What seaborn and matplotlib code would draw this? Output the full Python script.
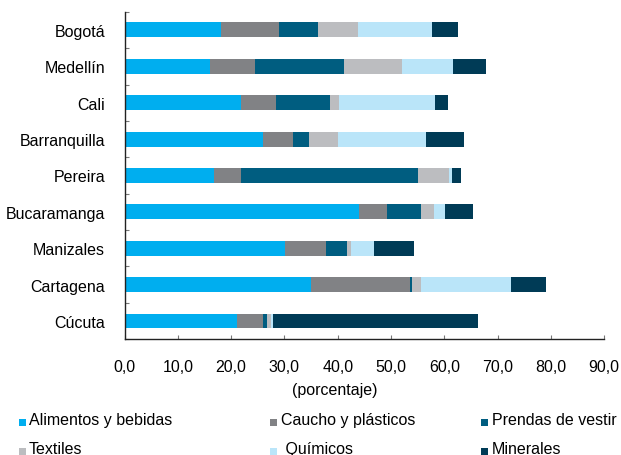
import matplotlib
matplotlib.use('Agg')
import matplotlib.pyplot as plt
import numpy as np
import seaborn as sns
from matplotlib.patches import Patch
from matplotlib.ticker import FuncFormatter, MultipleLocator

# data (percent of each city's total)
cities = ['Bogotá', 'Medellín', 'Cali', 'Barranquilla', 'Pereira',
          'Bucaramanga', 'Manizales', 'Cartagena', 'Cúcuta']
alimentos = [18.1, 16.0, 21.9, 26.0, 16.7, 43.9, 30.2, 35.0, 21.1]
caucho = [10.8, 8.5, 6.6, 5.7, 5.1, 5.4, 7.6, 18.5, 4.8]
prendas = [7.4, 16.7, 10.0, 2.9, 33.2, 6.4, 4.0, 0.5, 0.9]
textiles = [7.5, 10.9, 1.7, 5.5, 5.8, 2.3, 0.6, 1.6, 0.6]
quimicos = [13.9, 9.5, 18.0, 16.4, 0.6, 2.1, 4.4, 16.9, 0.4]
minerales = [4.8, 6.2, 2.5, 7.1, 1.8, 5.2, 7.5, 6.6, 38.6]

series = ['Alimentos y bebidas', 'Caucho y plásticos', 'Prendas de vestir',
          'Textiles', ' Químicos', 'Minerales']
colors = ['#00aeef', '#818285', '#005d80', '#bcbdc0', '#bae5f9', '#003b56']

plt.rcParams['font.family'] = ['Liberation Sans', 'DejaVu Sans']
plt.rcParams['font.size'] = 11.5

vals = np.array([alimentos, caucho, prendas, textiles, quimicos, minerales])
cum = vals.cumsum(axis=0)

fig, ax = plt.subplots(figsize=(6.21, 4.56), dpi=100)
fig.subplots_adjust(left=0.2005, right=0.973, top=0.972, bottom=0.254)

# stacked bars: draw the cumulative totals from the longest down
for i in range(len(series) - 1, -1, -1):
    sns.barplot(x=cum[i], y=cities, color=colors[i], orient='h', width=0.41,
                saturation=1, edgecolor='none', linewidth=0, ax=ax)

ax.set_xlim(0, 90)
ax.set_ylim(8.5, -0.5)
ax.set_ylabel('')
ax.set_xlabel('(porcentaje)', fontsize=11.5)
ax.xaxis.set_label_coords(0.438, -0.13)

ax.xaxis.set_major_locator(MultipleLocator(10))
ax.xaxis.set_major_formatter(FuncFormatter(lambda v, p: f'{v:.1f}'.replace('.', ',')))
ax.tick_params(axis='x', direction='in', length=3, width=0.8, color='#777777',
               pad=14, labelsize=11.5)

ax.set_yticks(np.arange(-0.5, 9, 1), minor=True)
ax.tick_params(axis='y', which='major', length=0, pad=14, labelsize=11.5)
ax.tick_params(axis='y', which='minor', direction='in', length=3, width=0.8,
               color='#777777')

for s in ['top', 'right']:
    ax.spines[s].set_visible(False)
for s in ['left', 'bottom']:
    ax.spines[s].set_color('#222222')
    ax.spines[s].set_linewidth(1.0)

handles = [Patch(facecolor=c, edgecolor='none') for c in colors]
col_x = [0.030, 0.435, 0.775]
for k in range(3):
    leg = fig.legend([handles[k], handles[k + 3]], [series[k], series[k + 3]],
                     loc='upper left', bbox_to_anchor=(col_x[k], 0.095),
                     bbox_transform=fig.transFigure, frameon=False,
                     handlelength=0.45, handleheight=0.28, handletextpad=0.2,
                     labelspacing=0.9, borderpad=0, borderaxespad=0,
                     fontsize=11.5)
    for h in leg.legend_handles:
        h.set_y(-1.5)

fig.savefig('out.png', dpi=100)
